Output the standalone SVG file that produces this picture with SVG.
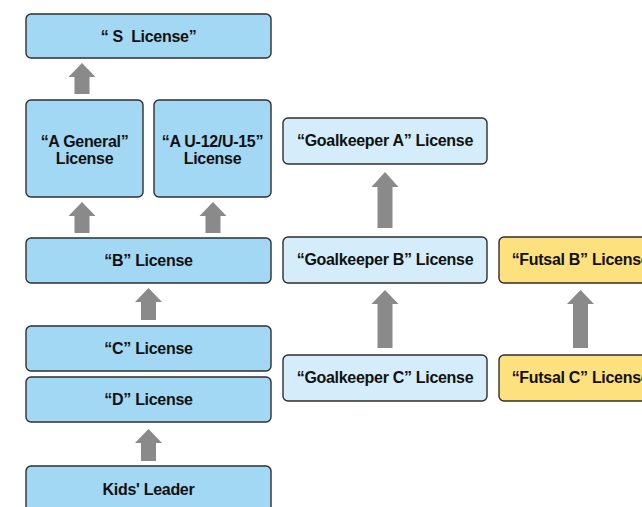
<svg xmlns="http://www.w3.org/2000/svg" width="642" height="507" viewBox="0 0 642 507">
<style>
.box{stroke:#2e2e2e;stroke-width:1.4}
.main{fill:#a3d8f4}
.gk{fill:#d5edfa}
.fut{fill:#fde17f}
text{font-family:"Liberation Sans",Arial,sans-serif;font-weight:bold;font-size:16px;fill:#111;text-anchor:middle;letter-spacing:-0.3px}
.arr{fill:#8a8a8a}
</style>
<rect width="642" height="507" fill="#fff"/>
<g id="connectors">
<path class="arr" d="M82,63 L95.5,77 L89.5,77 L89.5,94 L74.5,94 L74.5,77 L68.5,77 Z"/>
<path class="arr" d="M82,202 L95.5,216 L89.5,216 L89.5,233 L74.5,233 L74.5,216 L68.5,216 Z"/>
<path class="arr" d="M213,202 L226.5,216 L220.5,216 L220.5,233 L205.5,233 L205.5,216 L199.5,216 Z"/>
<path class="arr" d="M148.5,288 L162,302 L156,302 L156,320 L141,320 L141,302 L135,302 Z"/>
<path class="arr" d="M148.5,429 L162,443 L156,443 L156,461 L141,461 L141,443 L135,443 Z"/>
<path class="arr" d="M385,172 L398.5,187 L392.5,187 L392.5,228 L377.5,228 L377.5,187 L371.5,187 Z"/>
<path class="arr" d="M385,290 L398.5,304 L392.5,304 L392.5,348 L377.5,348 L377.5,304 L371.5,304 Z"/>
<path class="arr" d="M580.5,290 L594,304 L588,304 L588,348 L573,348 L573,304 L567,304 Z"/>
</g>
<g id="s-license"><rect class="box main" x="26" y="14" width="245" height="44" rx="5"/><text x="148.5" y="42">“ S&#160; License”</text></g>
<g id="a-general"><rect class="box main" x="26" y="100" width="117" height="97" rx="5"/><text x="84.5" y="147">“A General”</text><text x="84.5" y="164">License</text></g>
<g id="a-u12"><rect class="box main" x="154" y="100" width="117" height="97" rx="5"/><text x="212.5" y="147">“A U-12/U-15”</text><text x="212.5" y="164">License</text></g>
<g id="b-license"><rect class="box main" x="26" y="238" width="245" height="45" rx="5"/><text x="148.5" y="266">“B” License</text></g>
<g id="c-license"><rect class="box main" x="26" y="326" width="245" height="45" rx="5"/><text x="148.5" y="354">“C” License</text></g>
<g id="d-license"><rect class="box main" x="26" y="377" width="245" height="45" rx="5"/><text x="148.5" y="405">“D” License</text></g>
<g id="kids-leader"><rect class="box main" x="26" y="466" width="245" height="46" rx="5"/><text x="148.5" y="495">Kids' Leader</text></g>
<g id="gk-a"><rect class="box gk" x="283" y="118" width="204" height="46" rx="5"/><text x="385" y="146">“Goalkeeper A” License</text></g>
<g id="gk-b"><rect class="box gk" x="283" y="237" width="204" height="46" rx="5"/><text x="385" y="265">“Goalkeeper B” License</text></g>
<g id="gk-c"><rect class="box gk" x="283" y="355" width="204" height="46" rx="5"/><text x="385" y="383">“Goalkeeper C” License</text></g>
<g id="futsal-b"><rect class="box fut" x="499" y="237" width="163" height="46" rx="5"/><text x="580.5" y="265">“Futsal B” License</text></g>
<g id="futsal-c"><rect class="box fut" x="499" y="355" width="163" height="46" rx="5"/><text x="580.5" y="383">“Futsal C” License</text></g>
</svg>
